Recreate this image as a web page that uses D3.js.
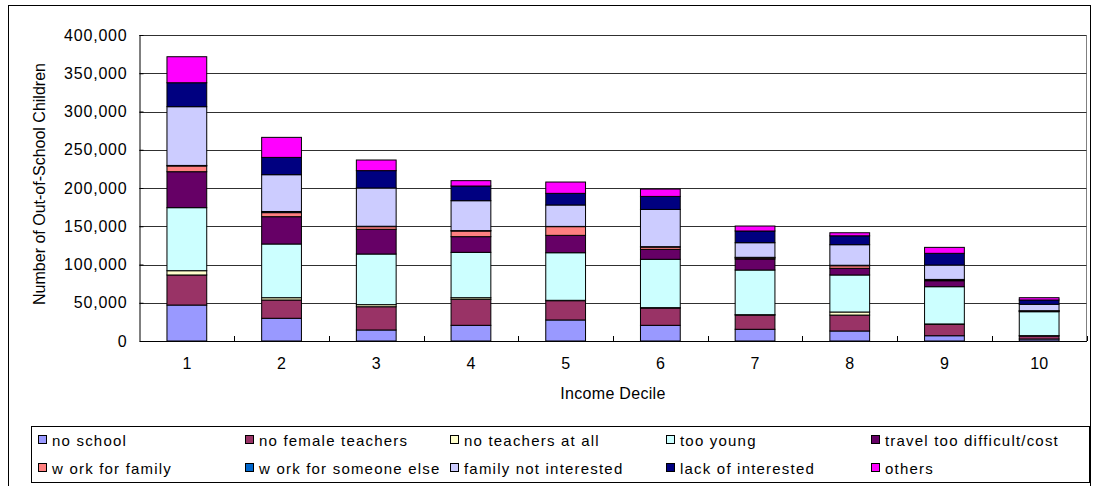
<!DOCTYPE html>
<html>
<head>
<meta charset="utf-8">
<script src="https://cdn.jsdelivr.net/npm/d3@7/dist/d3.min.js"></script>
<style>
  body { margin: 0; background: #fff; }
  svg { display: block; }
  text { font-family: "Liberation Sans", Arial, sans-serif; fill: #000; }
</style>
</head>
<body>
<svg id="chart" width="1093" height="486"></svg>
<script>
// Income deciles (x categories)
const deciles = ["1", "2", "3", "4", "5", "6", "7", "8", "9", "10"];

// Reasons for being out of school, bottom to top of each stack
const reasons = [
  "no school", "no female teachers", "no teachers at all", "too young",
  "travel too difficult/cost", "w ork for family", "w ork for someone else",
  "family not interested", "lack of interested", "others"
];
const reasonColors = [
  "#9999FF", "#993366", "#FFFFCC", "#CCFFFF", "#660066",
  "#FF8080", "#0066CC", "#CCCCFF", "#000080", "#FF00FF"
];

// Number of out-of-school children by reason, deciles 1..10
const noSchool            = [47000, 29700, 14400, 20500, 27500, 20500, 15300, 13100, 6900, 2600];
const noFemaleTeachers    = [39300, 23900, 30400, 34000, 25200, 22600, 18600, 20800, 14900, 3900];
const noTeachersAtAll     = [5600, 3000, 2700, 2100, 500, 500, 500, 4000, 500, 500];
const tooYoung            = [82400, 70200, 66200, 59300, 62200, 63200, 58400, 48400, 48700, 31300];
const travelDifficult     = [47000, 35700, 32300, 20500, 22700, 13000, 14400, 8700, 7800, 700];
const workForFamily       = [7500, 5300, 3500, 7400, 11400, 3000, 1500, 3400, 1000, 300];
const workForSomeoneElse  = [700, 1500, 500, 500, 300, 500, 700, 600, 700, 300];
const familyNotInterested = [76800, 48100, 50000, 39100, 28000, 48700, 19100, 26900, 18800, 8400];
const lackOfInterest      = [31300, 22600, 22700, 19200, 15200, 17000, 15300, 11600, 15300, 5600];
const others              = [34000, 26200, 13900, 7000, 14800, 9600, 6500, 4000, 7800, 3000];

const yTicks = [0, 50000, 100000, 150000, 200000, 250000, 300000, 350000, 400000];

const seriesValues = [
  noSchool, noFemaleTeachers, noTeachersAtAll, tooYoung, travelDifficult,
  workForFamily, workForSomeoneElse, familyNotInterested, lackOfInterest, others
];

// Table for d3.stack: one row per decile
const table = deciles.map((d, i) => {
  const row = { decile: d };
  reasons.forEach((r, k) => { row[r] = seriesValues[k][i]; });
  return row;
});

const svg = d3.select("#chart");
const plot = { left: 139.5, right: 1086.5, top: 35, bottom: 341 };

const x = d3.scaleBand()
  .domain(deciles)
  .range([plot.left, plot.right])
  .paddingInner(0.58)
  .paddingOuter(0.29);

const y = d3.scaleLinear()
  .domain([0, 400000])
  .range([plot.bottom, plot.top]);

// Outer chart frame
svg.append("rect")
  .attr("x", 8.5).attr("y", 5.5)
  .attr("width", 1082).attr("height", 500)
  .attr("fill", "#fff").attr("stroke", "#000").attr("stroke-width", 1);

// Plot area border (top and right)
svg.append("path")
  .attr("d", `M${plot.left},${plot.top + 0.5}H${plot.right}V${plot.bottom}`)
  .attr("fill", "none").attr("stroke", "#808080").attr("stroke-width", 1);

// Horizontal gridlines
svg.append("g")
  .selectAll("line")
  .data(yTicks.filter(t => t > 0))
  .join("line")
  .attr("x1", plot.left).attr("x2", plot.right)
  .attr("y1", d => Math.round(y(d)) + 0.5)
  .attr("y2", d => Math.round(y(d)) + 0.5)
  .attr("stroke", "#303030").attr("stroke-width", 1);

// Y axis: ticks inside, labels to the left
const yAxis = d3.axisLeft(y)
  .tickValues(yTicks)
  .tickSizeInner(-4)
  .tickSizeOuter(0)
  .tickPadding(12)
  .tickFormat(d3.format(","));
const gy = svg.append("g")
  .attr("transform", `translate(${plot.left},0)`)
  .call(yAxis);
gy.select(".domain").attr("stroke", "#000");
gy.selectAll(".tick line").attr("stroke", "#000");
gy.selectAll(".tick text")
  .attr("font-size", 16)
  .attr("letter-spacing", 0.8)
  .attr("font-family", "'Liberation Sans', Arial, sans-serif")
  .attr("fill", "#000");

// X axis: labels centred under bars, boundary ticks inside
const xAxis = d3.axisBottom(x).tickSize(0).tickPadding(17);
const gx = svg.append("g")
  .attr("transform", `translate(0,${plot.bottom})`)
  .call(xAxis);
gx.select(".domain").attr("stroke", "#000");
gx.selectAll(".tick text")
  .attr("font-size", 16)
  .attr("font-family", "'Liberation Sans', Arial, sans-serif")
  .attr("fill", "#000");
gx.append("g")
  .selectAll("line")
  .data(deciles)
  .join("line")
  .attr("x1", d => Math.round(x(d) + x.bandwidth() / 2 + x.step() / 2) + 0.5)
  .attr("x2", d => Math.round(x(d) + x.bandwidth() / 2 + x.step() / 2) + 0.5)
  .attr("y1", 0).attr("y2", -5)
  .attr("stroke", "#000");

// Stacked bars
const stack = d3.stack().keys(reasons);
const layers = stack(table);
svg.append("g")
  .selectAll("g")
  .data(layers)
  .join("g")
  .attr("fill", (d, i) => reasonColors[i])
  .selectAll("rect")
  .data(d => d)
  .join("rect")
  .attr("x", d => x(d.data.decile))
  .attr("width", x.bandwidth())
  .attr("y", d => y(d[1]))
  .attr("height", d => y(d[0]) - y(d[1]))
  .attr("stroke", "#000")
  .attr("stroke-width", 1);

// Axis titles
svg.append("text")
  .attr("x", x.range()[0] + (x.range()[1] - x.range()[0]) / 2)
  .attr("y", 399)
  .attr("text-anchor", "middle")
  .attr("font-size", 16)
  .attr("letter-spacing", 0.3)
  .text("Income Decile");

svg.append("text")
  .attr("transform", "translate(45,184) rotate(-90)")
  .attr("text-anchor", "middle")
  .attr("font-size", 16)
  .text("Number of Out-of-School Children");

// Legend
const legend = svg.append("g");
legend.append("rect")
  .attr("x", 31.5).attr("y", 426.5)
  .attr("width", 1058).attr("height", 56)
  .attr("fill", "#fff").attr("stroke", "#000");

const colX = [38, 245, 450, 666, 871];
const rowY = [440, 468];
const items = legend.selectAll("g.item")
  .data(reasons)
  .join("g")
  .attr("class", "item")
  .attr("transform", (d, i) => `translate(${colX[i % 5]},${rowY[Math.floor(i / 5)]})`);
items.append("rect")
  .attr("x", 0.5).attr("y", -4.5)
  .attr("width", 8).attr("height", 8)
  .attr("fill", (d, i) => reasonColors[i])
  .attr("stroke", "#000");
items.append("text")
  .attr("x", 14)
  .attr("y", 5.5)
  .attr("font-size", 15)
  .attr("letter-spacing", 1.2)
  .text(d => d);
</script>
</body>
</html>
